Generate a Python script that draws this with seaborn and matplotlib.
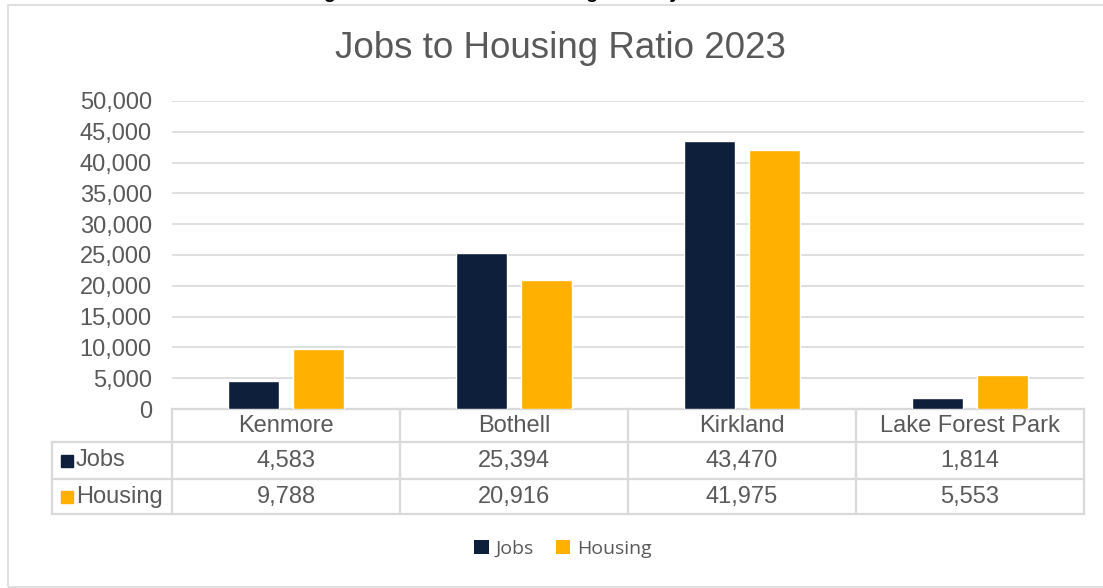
import matplotlib
matplotlib.use("Agg")
import matplotlib.pyplot as plt
from matplotlib.patches import Patch, Rectangle
from matplotlib.ticker import FuncFormatter
import seaborn as sns
import pandas as pd

# ---- data ----
cities = ["Kenmore", "Bothell", "Kirkland", "Lake Forest Park"]
jobs = [4583, 25394, 43470, 1814]
housing = [9788, 20916, 41975, 5553]
series = ["Jobs", "Housing"]
colors = ["#0e1f3b", "#ffb000"]

title = "Jobs to Housing Ratio 2023"
caption = "Existing Local Area Jobs to Housing Ratio by Jurisdiction"

df = pd.DataFrame({
    "City": cities * 2,
    "Series": [series[0]] * len(cities) + [series[1]] * len(cities),
    "Count": jobs + housing,
})

sns.set_theme(style="white")
plt.rcParams["font.family"] = ["Liberation Sans", "DejaVu Sans"]

W, H = 1103, 588
fig = plt.figure(figsize=(W / 100, H / 100), dpi=100)
fig.patch.set_facecolor("white")

GRID = "#d9d9d9"
TXT = "#595959"

# chart-area outline
fig.patches.append(Rectangle((8 / W, 1 - 587 / H), 1.2, (587 - 5) / H,
                             transform=fig.transFigure, fill=False,
                             edgecolor=GRID, lw=1.2, zorder=0))

# caption line above the chart (runs off the top edge)
fig.text(260 / W, 1 + 2 / H, caption, ha="left", va="baseline",
         fontsize=14, fontweight="bold", color="black")

fig.text(560 / W, 1 - 48 / H, title, ha="center", va="center",
         fontsize=26.5, color=TXT)

# plot area in pixel geometry
left, right, top, base = 172, 1084, 101, 409
ax = fig.add_axes([left / W, 1 - base / H, (right - left) / W, (base - top) / H])

sns.barplot(data=df, x="City", y="Count", hue="Series", order=cities,
            hue_order=series, palette=colors, width=0.566, gap=0.21,
            saturation=1, legend=False, ax=ax, zorder=3)

ax.set_xlim(-0.5, len(cities) - 0.5)
ax.set_ylim(0, 50000)
ax.set_yticks(range(0, 50001, 5000))
ax.yaxis.set_major_formatter(FuncFormatter(lambda v, p: f"{int(v):,}"))
ax.tick_params(axis="y", length=0, pad=14.5, labelsize=17, labelcolor=TXT)
ax.set_xticks([])
ax.set_xlabel("")
ax.set_ylabel("")
ax.yaxis.grid(True, color=GRID, lw=1.2, zorder=0)
ax.set_axisbelow(True)
for s in ax.spines.values():
    s.set_visible(False)

# ---- data table under the plot ----
tr = ax.get_xaxis_transform()
px_h = base - top


def ya(ypx):
    return (base - ypx) / px_h


def xd(xpx):
    return -0.5 + (xpx - left) / ((right - left) / len(cities))


rows_px = [409, 442, 479, 514]
lab_left = xd(52)
line_kw = dict(color=GRID, lw=1.6, transform=tr, clip_on=False, zorder=1,
               solid_capstyle="projecting")

ax.plot([-0.5, len(cities) - 0.5], [ya(rows_px[0])] * 2, **line_kw)
for r in rows_px[1:]:
    ax.plot([lab_left, len(cities) - 0.5], [ya(r)] * 2, **line_kw)
ax.plot([lab_left, lab_left], [ya(rows_px[1]), ya(rows_px[3])], **line_kw)
for i in range(len(cities) + 1):
    x = i - 0.5
    ax.plot([x, x], [ya(rows_px[0]), ya(rows_px[3])], **line_kw)

cell_kw = dict(transform=tr, ha="center", va="center", fontsize=17,
               color=TXT, clip_on=False)
for i, c in enumerate(cities):
    ax.text(i, ya((rows_px[0] + rows_px[1]) / 2), c, **cell_kw)
    ax.text(i, ya((rows_px[1] + rows_px[2]) / 2), f"{jobs[i]:,}", **cell_kw)
    ax.text(i, ya((rows_px[2] + rows_px[3]) / 2), f"{housing[i]:,}", **cell_kw)

for k, (name, col) in enumerate(zip(series, colors)):
    yc = ya((rows_px[k + 1] + rows_px[k + 2]) / 2)
    ax.plot([xd(66.5)], [yc], marker="s", markersize=9, color=col,
            transform=tr, clip_on=False, linestyle="none")
    ax.text(xd(76), yc, name, transform=tr, ha="left", va="center",
            fontsize=17, color=TXT, clip_on=False)

# ---- legend ----
handles = [Patch(facecolor=c, edgecolor="none", label=s) for s, c in zip(series, colors)]
fig.legend(handles=handles, loc="center", bbox_to_anchor=(563 / W, 1 - 549 / H),
           ncol=2, frameon=False, handlelength=0.75, handleheight=0.75,
           handletextpad=0.35, columnspacing=1.1,
           prop={"family": ["Open Sans", "DejaVu Sans"], "size": 14},
           labelcolor=TXT)

fig.savefig("out.png", dpi=100, facecolor="white")
